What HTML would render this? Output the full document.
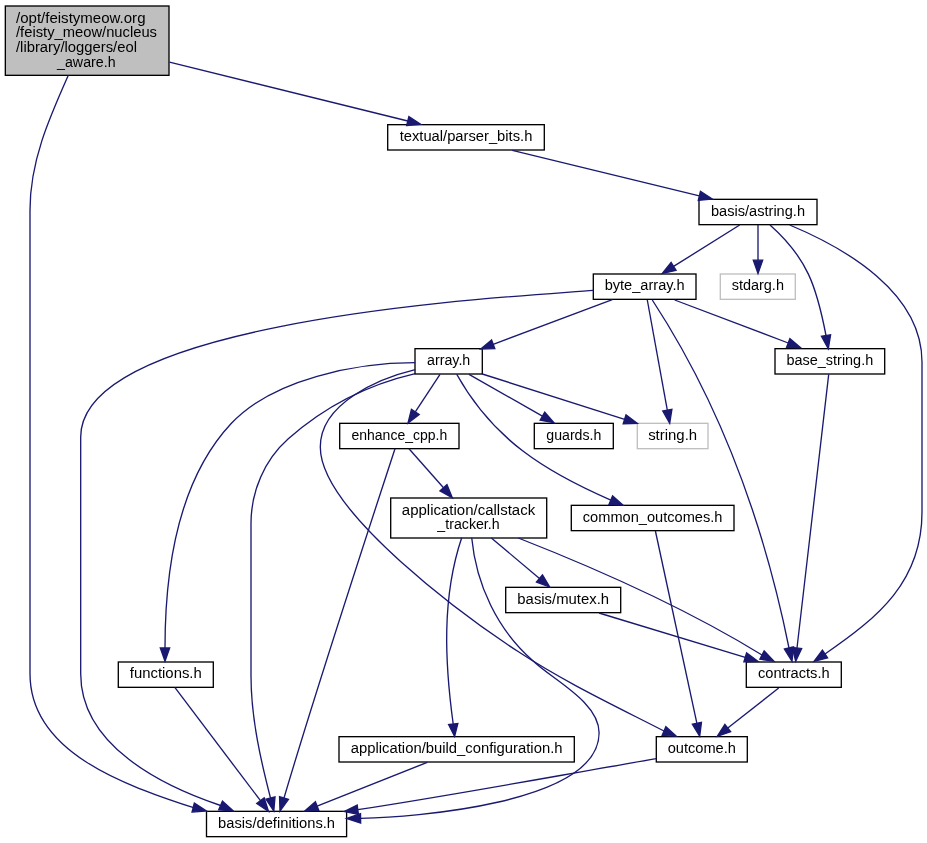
<!DOCTYPE html>
<html><head><meta charset="utf-8"><title>eol_aware.h include graph</title>
<style>html,body{margin:0;padding:0;background:#fff}svg{display:block}text{font-family:"Liberation Sans",sans-serif;font-size:14px;fill:#000}</style></head><body>
<svg width="927" height="843" viewBox="0 0 927 843">
<rect x="0" y="0" width="927" height="843" fill="#ffffff"/>
<rect x="5.33" y="6.00" width="163.67" height="69.33" fill="#bfbfbf" stroke="#000000" stroke-width="1.333"/>
<rect x="387.70" y="124.67" width="156.60" height="25.33" fill="#ffffff" stroke="#000000" stroke-width="1.333"/>
<rect x="699.00" y="199.33" width="118.00" height="25.33" fill="#ffffff" stroke="#000000" stroke-width="1.333"/>
<rect x="593.30" y="274.00" width="102.70" height="25.33" fill="#ffffff" stroke="#000000" stroke-width="1.333"/>
<rect x="720.30" y="274.00" width="75.00" height="25.33" fill="#ffffff" stroke="#bfbfbf" stroke-width="1.333"/>
<rect x="415.00" y="348.67" width="67.30" height="25.33" fill="#ffffff" stroke="#000000" stroke-width="1.333"/>
<rect x="775.00" y="348.67" width="109.70" height="25.33" fill="#ffffff" stroke="#000000" stroke-width="1.333"/>
<rect x="339.70" y="423.33" width="119.30" height="25.33" fill="#ffffff" stroke="#000000" stroke-width="1.333"/>
<rect x="534.30" y="423.33" width="79.00" height="25.33" fill="#ffffff" stroke="#000000" stroke-width="1.333"/>
<rect x="637.30" y="423.33" width="70.70" height="25.33" fill="#ffffff" stroke="#bfbfbf" stroke-width="1.333"/>
<rect x="390.70" y="498.00" width="156.00" height="40.00" fill="#ffffff" stroke="#000000" stroke-width="1.333"/>
<rect x="571.30" y="505.33" width="162.70" height="25.33" fill="#ffffff" stroke="#000000" stroke-width="1.333"/>
<rect x="505.70" y="587.33" width="115.00" height="25.33" fill="#ffffff" stroke="#000000" stroke-width="1.333"/>
<rect x="118.30" y="662.00" width="95.00" height="25.33" fill="#ffffff" stroke="#000000" stroke-width="1.333"/>
<rect x="746.30" y="662.00" width="95.00" height="25.33" fill="#ffffff" stroke="#000000" stroke-width="1.333"/>
<rect x="339.00" y="736.67" width="235.30" height="25.33" fill="#ffffff" stroke="#000000" stroke-width="1.333"/>
<rect x="656.30" y="736.67" width="91.00" height="25.33" fill="#ffffff" stroke="#000000" stroke-width="1.333"/>
<rect x="206.50" y="811.33" width="140.10" height="25.33" fill="#ffffff" stroke="#000000" stroke-width="1.333"/>
<path d="M169.5,62.2 L407.8,121.0" fill="none" stroke="#191970" stroke-width="1.333"/>
<polygon points="406.64,125.54 420.70,124.20 408.88,116.47" fill="#191970" stroke="#191970" stroke-width="1.333"/>
<path d="M68.3,75.3 C48.9,118.9 30.0,161.3 30.0,210.0 L30,673.7 C30.0,754.6 130.3,786.7 193.2,807.6" fill="none" stroke="#191970" stroke-width="1.333"/>
<polygon points="192.04,812.12 206.50,811.00 194.36,803.08" fill="#191970" stroke="#191970" stroke-width="1.333"/>
<path d="M512.3,150.3 L699.3,195.8" fill="none" stroke="#191970" stroke-width="1.333"/>
<polygon points="698.24,200.38 712.30,199.00 700.45,191.31" fill="#191970" stroke="#191970" stroke-width="1.333"/>
<path d="M739.7,225.0 L673.6,266.4" fill="none" stroke="#191970" stroke-width="1.333"/>
<polygon points="671.12,262.47 662.30,273.50 676.07,270.38" fill="#191970" stroke="#191970" stroke-width="1.333"/>
<path d="M758.0,225.0 L758.0,260.2" fill="none" stroke="#191970" stroke-width="1.333"/>
<polygon points="753.33,260.17 758.00,273.50 762.67,260.17" fill="#191970" stroke="#191970" stroke-width="1.333"/>
<path d="M770.0,224.9 C807.3,257.9 816.7,287.0 826.0,335.5" fill="none" stroke="#191970" stroke-width="1.333"/>
<polygon points="821.40,336.30 828.30,348.70 830.60,334.70" fill="#191970" stroke="#191970" stroke-width="1.333"/>
<path d="M789.7,225.0 C845.7,248.4 922.0,292.5 922.0,362.0 L922,512 C922.0,581.5 878.4,617.3 825.0,654.0" fill="none" stroke="#191970" stroke-width="1.333"/>
<polygon points="822.42,650.11 814.00,661.30 827.58,657.89" fill="#191970" stroke="#191970" stroke-width="1.333"/>
<path d="M593.3,290.3 C519.7,296.7 80.7,317.2 80.7,437.0 L80.7,673.7 C80.7,745.5 161.5,785.6 220.6,805.5" fill="none" stroke="#191970" stroke-width="1.333"/>
<polygon points="218.75,809.78 233.30,811.00 222.45,801.22" fill="#191970" stroke="#191970" stroke-width="1.333"/>
<path d="M612.3,299.7 L493.2,344.3" fill="none" stroke="#191970" stroke-width="1.333"/>
<polygon points="491.55,339.95 480.70,349.00 494.82,348.69" fill="#191970" stroke="#191970" stroke-width="1.333"/>
<path d="M647.3,300.0 L667.3,410.2" fill="none" stroke="#191970" stroke-width="1.333"/>
<polygon points="662.73,411.02 669.70,423.30 671.91,409.35" fill="#191970" stroke="#191970" stroke-width="1.333"/>
<path d="M652.3,300.0 C721.0,405.2 764.2,525.2 789.0,648.0" fill="none" stroke="#191970" stroke-width="1.333"/>
<polygon points="784.45,649.03 792.00,661.30 793.55,646.97" fill="#191970" stroke="#191970" stroke-width="1.333"/>
<path d="M674.7,300.0 L788.2,343.0" fill="none" stroke="#191970" stroke-width="1.333"/>
<polygon points="786.58,347.35 800.70,347.70 789.89,338.62" fill="#191970" stroke="#191970" stroke-width="1.333"/>
<path d="M415.2,362.7 C357.0,362.7 273.1,378.7 231.2,423.5 C176.4,482.1 165.0,571.4 165.0,648.0" fill="none" stroke="#191970" stroke-width="1.333"/>
<polygon points="160.33,648.00 165.00,661.30 169.67,648.00" fill="#191970" stroke="#191970" stroke-width="1.333"/>
<path d="M415.2,369.6 C379.4,378.2 320.3,402.9 320.3,447.0 C320.3,512.0 468.6,619.0 517.7,651.3 C564.2,681.9 614.6,705.7 664.0,731.0" fill="none" stroke="#191970" stroke-width="1.333"/>
<polygon points="662.15,735.29 676.30,736.30 665.85,726.71" fill="#191970" stroke="#191970" stroke-width="1.333"/>
<path d="M415.2,373.6 C368.3,384.5 324.3,406.8 288.3,438.8 C264.2,460.2 251.0,491.5 251.0,523.6 L251.0,676 C251.0,720 262,765 270.5,798" fill="none" stroke="#191970" stroke-width="1.333"/>
<polygon points="265.98,799.15 273.80,811.00 275.02,796.85" fill="#191970" stroke="#191970" stroke-width="1.333"/>
<path d="M440.0,374.3 L415.3,411.9" fill="none" stroke="#191970" stroke-width="1.333"/>
<polygon points="411.42,409.30 408.00,423.00 419.22,414.42" fill="#191970" stroke="#191970" stroke-width="1.333"/>
<path d="M456.7,374.3 C492.8,439.2 544.9,471.5 610.8,500.1" fill="none" stroke="#191970" stroke-width="1.333"/>
<polygon points="609.01,504.41 623.10,505.20 612.59,495.79" fill="#191970" stroke="#191970" stroke-width="1.333"/>
<path d="M469.0,374.3 L542.4,416.1" fill="none" stroke="#191970" stroke-width="1.333"/>
<polygon points="540.11,420.16 554.00,422.70 544.73,412.05" fill="#191970" stroke="#191970" stroke-width="1.333"/>
<path d="M482.3,374.0 L624.6,419.3" fill="none" stroke="#191970" stroke-width="1.333"/>
<polygon points="623.18,423.71 637.30,423.30 626.01,414.81" fill="#191970" stroke="#191970" stroke-width="1.333"/>
<path d="M828.7,374.3 C821,440 805,580 797,648" fill="none" stroke="#191970" stroke-width="1.333"/>
<polygon points="792.36,647.55 795.70,661.30 801.64,648.45" fill="#191970" stroke="#191970" stroke-width="1.333"/>
<path d="M395,448.7 C370,525 310,710 284,798" fill="none" stroke="#191970" stroke-width="1.333"/>
<polygon points="279.54,796.63 280.00,811.00 288.46,799.37" fill="#191970" stroke="#191970" stroke-width="1.333"/>
<path d="M409.0,448.7 L443.5,487.7" fill="none" stroke="#191970" stroke-width="1.333"/>
<polygon points="439.98,490.80 452.30,497.70 446.97,484.62" fill="#191970" stroke="#191970" stroke-width="1.333"/>
<path d="M461.7,537.8 C441.6,597.5 444.8,662.4 453.2,724.0" fill="none" stroke="#191970" stroke-width="1.333"/>
<polygon points="448.56,724.52 454.60,736.40 457.84,723.48" fill="#191970" stroke="#191970" stroke-width="1.333"/>
<path d="M471.7,537.8 C476.1,584.4 497.4,630.2 533.2,661.0 C552.1,679.5 599.1,701.8 599.1,732.8 C599.1,804.3 410.6,817.3 360.6,818.3" fill="none" stroke="#191970" stroke-width="1.333"/>
<polygon points="360.53,813.63 346.60,818.50 360.67,822.97" fill="#191970" stroke="#191970" stroke-width="1.333"/>
<path d="M491.3,538.0 L539.5,578.4" fill="none" stroke="#191970" stroke-width="1.333"/>
<polygon points="536.49,582.01 549.70,587.00 542.49,574.86" fill="#191970" stroke="#191970" stroke-width="1.333"/>
<path d="M518.3,538.0 C602.3,570.9 684.8,607.5 762.0,655.0" fill="none" stroke="#191970" stroke-width="1.333"/>
<polygon points="759.83,659.13 774.00,661.30 764.17,650.87" fill="#191970" stroke="#191970" stroke-width="1.333"/>
<path d="M599.0,613.0 L745.2,657.4" fill="none" stroke="#191970" stroke-width="1.333"/>
<polygon points="743.89,661.89 758.00,661.30 746.60,652.96" fill="#191970" stroke="#191970" stroke-width="1.333"/>
<path d="M655.4,531.0 L696.9,723.3" fill="none" stroke="#191970" stroke-width="1.333"/>
<polygon points="692.33,724.25 699.70,736.30 701.45,722.29" fill="#191970" stroke="#191970" stroke-width="1.333"/>
<path d="M778.7,688.0 L727.8,728.1" fill="none" stroke="#191970" stroke-width="1.333"/>
<polygon points="724.89,724.39 717.30,736.30 730.66,731.73" fill="#191970" stroke="#191970" stroke-width="1.333"/>
<path d="M656.3,758.7 C556.7,775.8 457.5,794.4 357.8,809.7" fill="none" stroke="#191970" stroke-width="1.333"/>
<polygon points="357.18,805.07 344.30,811.50 358.42,814.33" fill="#191970" stroke="#191970" stroke-width="1.333"/>
<path d="M427.3,762.3 L317.1,806.1" fill="none" stroke="#191970" stroke-width="1.333"/>
<polygon points="315.37,801.74 304.70,811.00 318.81,810.42" fill="#191970" stroke="#191970" stroke-width="1.333"/>
<path d="M175.0,687.7 L260.5,800.7" fill="none" stroke="#191970" stroke-width="1.333"/>
<polygon points="256.74,803.48 268.50,811.30 264.18,797.85" fill="#191970" stroke="#191970" stroke-width="1.333"/>
<g style="filter:grayscale(1)">
<text x="16.00" y="22.60" text-anchor="start" textLength="129.5" lengthAdjust="spacingAndGlyphs">/opt/feistymeow.org</text>
<text x="16.00" y="37.30" text-anchor="start" textLength="141.0" lengthAdjust="spacingAndGlyphs">/feisty_meow/nucleus</text>
<text x="16.00" y="51.90" text-anchor="start" textLength="121.0" lengthAdjust="spacingAndGlyphs">/library/loggers/eol</text>
<text x="86.30" y="66.60" text-anchor="middle" textLength="58.5" lengthAdjust="spacingAndGlyphs">_aware.h</text>
<text x="466.00" y="140.87" text-anchor="middle" textLength="132.7" lengthAdjust="spacingAndGlyphs">textual/parser_bits.h</text>
<text x="758.00" y="215.53" text-anchor="middle" textLength="94.0" lengthAdjust="spacingAndGlyphs">basis/astring.h</text>
<text x="644.65" y="290.20" text-anchor="middle" textLength="80.0" lengthAdjust="spacingAndGlyphs">byte_array.h</text>
<text x="757.80" y="290.20" text-anchor="middle" textLength="52.3" lengthAdjust="spacingAndGlyphs">stdarg.h</text>
<text x="448.65" y="364.87" text-anchor="middle" textLength="43.3" lengthAdjust="spacingAndGlyphs">array.h</text>
<text x="829.85" y="364.87" text-anchor="middle" textLength="86.7" lengthAdjust="spacingAndGlyphs">base_string.h</text>
<text x="399.35" y="439.53" text-anchor="middle" textLength="95.7" lengthAdjust="spacingAndGlyphs">enhance_cpp.h</text>
<text x="573.80" y="439.53" text-anchor="middle" textLength="55.0" lengthAdjust="spacingAndGlyphs">guards.h</text>
<text x="672.65" y="439.53" text-anchor="middle" textLength="49.0" lengthAdjust="spacingAndGlyphs">string.h</text>
<text x="468.50" y="514.60" text-anchor="middle" textLength="133.3" lengthAdjust="spacingAndGlyphs">application/callstack</text>
<text x="468.50" y="529.30" text-anchor="middle" textLength="62.3" lengthAdjust="spacingAndGlyphs">_tracker.h</text>
<text x="652.65" y="521.53" text-anchor="middle" textLength="139.7" lengthAdjust="spacingAndGlyphs">common_outcomes.h</text>
<text x="563.20" y="603.53" text-anchor="middle" textLength="91.7" lengthAdjust="spacingAndGlyphs">basis/mutex.h</text>
<text x="165.80" y="678.20" text-anchor="middle" textLength="72.0" lengthAdjust="spacingAndGlyphs">functions.h</text>
<text x="793.80" y="678.20" text-anchor="middle" textLength="71.7" lengthAdjust="spacingAndGlyphs">contracts.h</text>
<text x="456.65" y="752.87" text-anchor="middle" textLength="211.7" lengthAdjust="spacingAndGlyphs">application/build_configuration.h</text>
<text x="701.80" y="752.87" text-anchor="middle" textLength="68.3" lengthAdjust="spacingAndGlyphs">outcome.h</text>
<text x="276.55" y="827.53" text-anchor="middle" textLength="117.0" lengthAdjust="spacingAndGlyphs">basis/definitions.h</text>
</g>
</svg></body></html>
